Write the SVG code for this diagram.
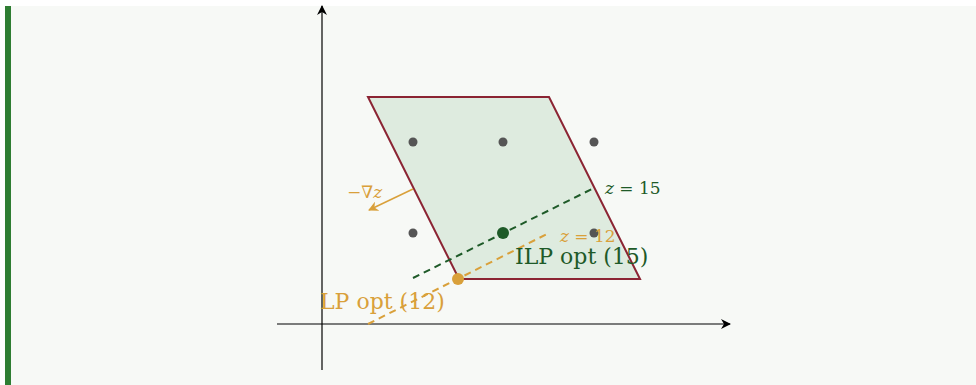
<svg xmlns="http://www.w3.org/2000/svg" width="976" height="385" viewBox="0 0 976 385">
<defs>
<marker id="ah" viewBox="0 0 10 10" refX="9" refY="5" markerWidth="10" markerHeight="10" markerUnits="userSpaceOnUse" orient="auto">
<path d="M0,0 L10,5 L0,10 L3,5 Z" fill="#000"/>
</marker>
<marker id="ahO" viewBox="0 0 10 10" refX="9" refY="5" markerWidth="10" markerHeight="10" markerUnits="userSpaceOnUse" orient="auto">
<path d="M0,0 L10,5 L0,10 L3,5 Z" fill="#d9a03a"/>
</marker>
</defs>
<style>
.axis{stroke:#000;stroke-width:1.2;fill:none}
.pt{fill:#555}
.lbl{font-family:"DejaVu Serif","Liberation Serif",serif}
.green{fill:#1e5a28}
.orange{fill:#d9a03a}
</style>
<rect x="0" y="0" width="976" height="385" fill="#fff"/>
<rect x="5" y="6" width="971" height="379" fill="#f7f9f6"/>
<rect x="5" y="6" width="6" height="379" fill="#2e7d32"/>
<g id="axes">
<line class="axis" x1="277" y1="324" x2="730" y2="324" marker-end="url(#ah)"/>
<line class="axis" x1="322" y1="370" x2="322" y2="6" marker-end="url(#ah)"/>
</g>
<g id="region">
<polygon points="368,97 549,97 640,279 459,279" fill="#deebdf" stroke="#8b2433" stroke-width="2"/>
</g>
<g id="points">
<circle class="pt" cx="413" cy="142" r="4.5"/>
<circle class="pt" cx="503" cy="142" r="4.5"/>
<circle class="pt" cx="594" cy="142" r="4.5"/>
<circle class="pt" cx="413" cy="233" r="4.5"/>
<circle class="pt" cx="594" cy="233" r="4.5"/>
</g>
<g id="connectors">
<line x1="413" y1="278" x2="594" y2="188" stroke="#1e5a28" stroke-width="2" stroke-dasharray="7,5"/>
<line x1="368" y1="324" x2="549" y2="233" stroke="#d9a03a" stroke-width="2" stroke-dasharray="7,5"/>
<line x1="413" y1="189" x2="369" y2="210" stroke="#d9a03a" stroke-width="1.5" marker-end="url(#ahO)"/>
</g>
<g id="ilp-opt">
<circle cx="503" cy="233" r="6" fill="#1e5a28"/>
<text class="lbl green" x="515" y="264" font-size="22">ILP opt (15)</text>
</g>
<g id="lp-opt">
<circle cx="458" cy="279" r="6" fill="#d9a03a"/>
<text class="lbl orange" x="320" y="309" font-size="22">LP opt (12)</text>
</g>
<g id="labels">
<text class="lbl green" x="605" y="194" font-size="17"><tspan font-style="italic">z</tspan> = 15</text>
<text class="lbl orange" x="560" y="242" font-size="17"><tspan font-style="italic">z</tspan> = 12</text>
<text class="lbl orange" x="347" y="198" font-size="17">−∇<tspan font-style="italic">z</tspan></text>
</g>
</svg>
